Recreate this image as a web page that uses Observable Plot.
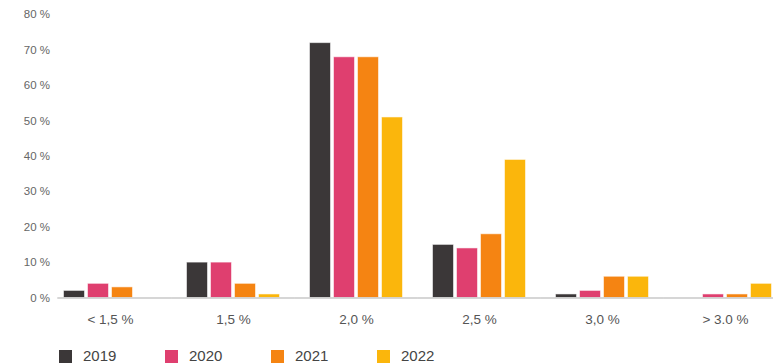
<!DOCTYPE html>
<html>
<head>
<meta charset="utf-8">
<script src="https://cdn.jsdelivr.net/npm/d3@7"></script>
<script src="https://cdn.jsdelivr.net/npm/@observablehq/plot@0.6"></script>
<style>
  html, body { margin: 0; padding: 0; background: #fff; overflow: hidden; }
  body { width: 773px; height: 364px; font-family: "Liberation Sans", Arial, Helvetica, sans-serif; }
  .legend { display: flex; padding: 7px 0 0 59px; height: 18px; }
  .legend .item { display: flex; align-items: center; width: 106px; font-size: 15px; color: #444; line-height: 18px; }
  .legend .swatch { width: 13px; height: 13px; margin-right: 11px; flex: none; }
</style>
</head>
<body>
<div id="chart"></div>
<script>
// Share of responses by expected rate bucket, per survey year (in %)
const categories = ["< 1,5 %", "1,5 %", "2,0 %", "2,5 %", "3,0 %", "> 3.0 %"];
const years = ["2019", "2020", "2021", "2022"];
const values2019 = [2, 10, 72, 15, 1, 0];
const values2020 = [4, 10, 68, 14, 2, 1];
const values2021 = [3, 4, 68, 18, 6, 1];
const values2022 = [0, 1, 51, 39, 6, 4];
const yTicks = [0, 10, 20, 30, 40, 50, 60, 70, 80];
const colors = ["#3b3738", "#df3f6f", "#f58412", "#fbb60c"];

const series = [values2019, values2020, values2021, values2022];
const rows = categories.flatMap((category, i) =>
  years.map((year, j) => ({category, year, value: series[j][i]}))
);

// Baseline segments, one per category group, joined across the gaps
const baseFirst = [{category: categories[0], value: 0}];
const baseRest = categories.slice(1).map(category => ({category, value: 0}));

const chart = Plot.plot({
  width: 773,
  height: 340,
  marginLeft: 48.5,
  marginRight: -13.5,
  marginTop: 14.3,
  marginBottom: 42.5,
  style: {fontFamily: "'Liberation Sans', Arial, Helvetica, sans-serif", fontSize: "13px", color: "#555", background: "transparent"},
  fx: {domain: categories, paddingInner: 0.22, paddingOuter: 0.11, label: null},
  x: {domain: years, paddingInner: 0.11, paddingOuter: 0, axis: null},
  y: {domain: [0, 80], label: null},
  color: {domain: years, range: colors},
  marks: [
    Plot.axisY(yTicks, {
      tickSize: 0, tickPadding: 12.5, tickFormat: d => `${d} %`,
      fontSize: 11.5, fill: "#666", label: null
    }),
    Plot.axisFx({
      anchor: "bottom", tickSize: 0, tickPadding: 16.5,
      fontSize: 13.5, fill: "#555", label: null
    }),
    Plot.barY(rows.filter(d => d.value > 0), {
      fx: "category", x: "year", y: "value", fill: "year",
      stroke: "white", strokeOpacity: 0.55, strokeWidth: 1
    }),
    Plot.ruleY(baseFirst, {fx: "category", y: "value", stroke: "#c8c8c8", strokeWidth: 1.5, insetLeft: -4.7, insetRight: -13.6}),
    Plot.ruleY(baseRest, {fx: "category", y: "value", stroke: "#c8c8c8", strokeWidth: 1.5, insetLeft: -13.6, insetRight: -13.6})
  ]
});
document.getElementById("chart").append(chart);

// Year legend below the chart
const legend = d3.select("body").append("div").attr("class", "legend");
const items = legend.selectAll(".item").data(years).join("div").attr("class", "item");
items.append("span").attr("class", "swatch").style("background", (d, i) => colors[i]);
items.append("span").text(d => d);
</script>
</body>
</html>
